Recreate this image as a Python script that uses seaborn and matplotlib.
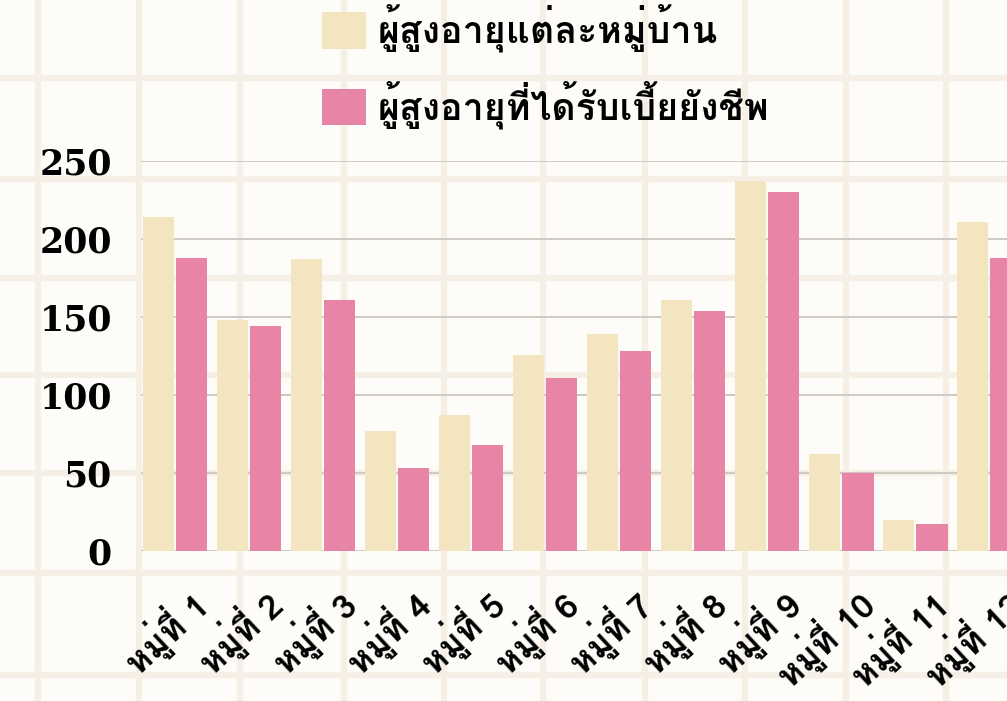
import pandas as pd
import matplotlib
matplotlib.use('Agg')
import matplotlib.pyplot as plt
import matplotlib.transforms as mtransforms
from matplotlib import font_manager as fm
from matplotlib.ft2font import FT2Font
from matplotlib.patches import Patch
import seaborn as sns

villages = ['หมู่ที่ 1', 'หมู่ที่ 2', 'หมู่ที่ 3', 'หมู่ที่ 4', 'หมู่ที่ 5', 'หมู่ที่ 6',
            'หมู่ที่ 7', 'หมู่ที่ 8', 'หมู่ที่ 9', 'หมู่ที่ 10', 'หมู่ที่ 11', 'หมู่ที่ 12']
elderly = [214, 148, 187, 77, 87, 126, 139, 161, 237, 62, 20, 211]
pension = [188, 144, 161, 53, 68, 111, 128, 154, 230, 50, 17, 188]
series_names = ['ผู้สูงอายุแต่ละหมู่บ้าน', 'ผู้สูงอายุที่ได้รับเบี้ยยังชีพ']
colors = ['#F3E5C0', '#E884A6']
y_ticks = [0, 50, 100, 150, 200, 250]


# look for an installed font that has Thai glyphs
def has_thai(path):
    try:
        return 0x0E1C in FT2Font(path).get_charmap()
    except Exception:
        return False


thai = []
for f in fm.fontManager.ttflist:
    if f.name not in thai and has_thai(f.fname):
        thai.append(f.name)
thai_family = thai[:1] + ['DejaVu Serif']

df = pd.DataFrame({
    'village': villages * 2,
    'count': elderly + pension,
    'series': [series_names[0]] * len(villages) + [series_names[1]] * len(villages),
})

sns.set_theme(style='white')
plt.rcParams['font.family'] = thai_family

fig = plt.figure(figsize=(10.07, 7.01), dpi=100, facecolor='#FDFCF8')

# paper-like background grid
bg = fig.add_axes([0, 0, 1, 1], zorder=-1)
bg.set_xlim(0, 1007)
bg.set_ylim(701, 0)
bg.axis('off')
bg.vlines([38, 139, 240, 344, 444, 543, 645, 745, 846, 946], 0, 701, color='#F5EFE6', lw=4.5)
bg.hlines([78, 179, 278, 375, 473, 573, 675], 0, 1007, color='#F5EFE6', lw=4.5)

ax = fig.add_axes([0.14, 0.214, 0.86, 0.556])
ax.set_facecolor('none')
sns.barplot(data=df, x='village', y='count', hue='series', palette=colors,
            saturation=1, width=0.9, gap=0.06, legend=False, linewidth=0, ax=ax)
ax.set_xlim(-0.46, 11.24)
ax.set_ylim(0, 250)
ax.set_yticks(y_ticks)
ax.yaxis.grid(True, color='#CBC7C0', lw=1.3)
ax.set_axisbelow(True)
for s in ax.spines.values():
    s.set_visible(False)
ax.set_xlabel('')
ax.set_ylabel('')
ax.tick_params(axis='y', length=0, pad=21)
ax.tick_params(axis='x', length=0, pad=34)
for lab in ax.get_yticklabels():
    lab.set_fontfamily('DejaVu Serif')
    lab.set_fontweight('bold')
    lab.set_fontsize(25)
    lab.set_color('black')
shift = mtransforms.ScaledTranslation(0.27, 0, fig.dpi_scale_trans)
for lab in ax.get_xticklabels():
    lab.set_rotation(43)
    lab.set_ha('right')
    lab.set_va('center')
    lab.set_rotation_mode('anchor')
    lab.set_fontsize(25)
    lab.set_fontweight('bold')
    lab.set_color('black')
    lab.set_transform(lab.get_transform() + shift)

handles = [Patch(facecolor=c, edgecolor='none') for c in colors]
leg = fig.legend(handles, series_names, loc='upper left', bbox_to_anchor=(322 / 1007, 1 - 4 / 701),
                 frameon=False, borderpad=0, borderaxespad=0, handlelength=1.17, handleheight=1.12,
                 handletextpad=0.3, labelspacing=0.75,
                 prop={'family': thai_family, 'weight': 'bold', 'size': 27})
for t in leg.get_texts():
    t.set_color('black')

fig.savefig('out.png', dpi=100, facecolor=fig.get_facecolor())
